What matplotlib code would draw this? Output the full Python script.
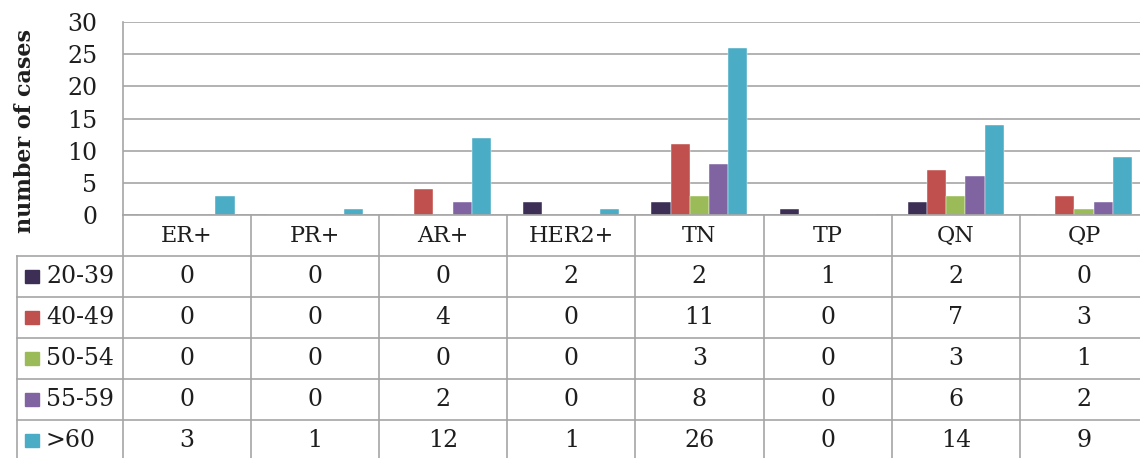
import matplotlib
matplotlib.use('Agg')
import matplotlib.pyplot as plt
import numpy as np

# data
categories = ['ER+', 'PR+', 'AR+', 'HER2+', 'TN', 'TP', 'QN', 'QP']
age_groups = ['20-39', '40-49', '50-54', '55-59', '>60']
age_20_39 = [0, 0, 0, 2, 2, 1, 2, 0]
age_40_49 = [0, 0, 4, 0, 11, 0, 7, 3]
age_50_54 = [0, 0, 0, 0, 3, 0, 3, 1]
age_55_59 = [0, 0, 2, 0, 8, 0, 6, 2]
age_60_up = [3, 1, 12, 1, 26, 0, 14, 9]
series = [age_20_39, age_40_49, age_50_54, age_55_59, age_60_up]
colors = ['#3D2E55', '#C0504D', '#9BBB59', '#8064A2', '#4BACC6']
yticks = [0, 5, 10, 15, 20, 25, 30]

W, H = 1140, 458
plt.rcParams['font.family'] = 'DejaVu Serif'
fig = plt.figure(figsize=(W / 100, H / 100), dpi=100)

grid_c = '#A5A5A5'
txt_c = '#1E1E1E'
x_left = 122.5   # px, left of plot area
col_w = 128.2    # px per category
y_zero = 215     # px from top
y_top = 22
row_h = 41

# bar chart axes
ax = fig.add_axes([x_left / W, (H - y_zero) / H, 8 * col_w / W, (y_zero - y_top) / H])
ax.set_xlim(0, 8)
ax.set_ylim(0, 30)
bw = 0.15
x = np.arange(len(categories))
for i, (vals, c) in enumerate(zip(series, colors)):
    ax.bar(x + 0.125 + bw * (i + 0.5), vals, width=bw, color=c, align='center',
           edgecolor='white', linewidth=0.3, zorder=3)
ax.set_yticks(yticks)
ax.set_yticklabels([str(t) for t in yticks], fontsize=17, color=txt_c)
ax.tick_params(axis='y', length=0, pad=18)
ax.set_xticks([])
ax.yaxis.grid(True, color=grid_c, linewidth=1.2)
ax.set_axisbelow(True)
for s in ['top', 'right', 'bottom']:
    ax.spines[s].set_visible(False)
ax.spines['left'].set_color(grid_c)
ax.spines['left'].set_linewidth(1.2)

fig.text(25 / W, 1 - 131 / H, 'number of cases', rotation=90, ha='center',
         va='center', fontsize=16, fontweight='bold', color=txt_c)

# data table below the chart
tab = fig.add_axes([x_left / W, 0, 8 * col_w / W, (H - y_zero) / H])
tab.set_xlim(0, 8)
tab.set_ylim((H - y_zero) / row_h, 0)
tab.axis('off')
left_edge = -(x_left - 17) / col_w
lk = dict(color=grid_c, linewidth=1.2, clip_on=False)
n_rows = len(age_groups)
# horizontal lines
tab.plot([0, 8], [0, 0], **lk)
for r in range(1, n_rows + 2):
    tab.plot([left_edge, 8], [r, r], **lk)
# vertical lines
for c in range(len(categories) + 1):
    tab.plot([c, c], [0, n_rows + 1], **lk)
tab.plot([left_edge, left_edge], [1, n_rows + 1], **lk)

for j, cat in enumerate(categories):
    tab.text(j + 0.5, 0.52, cat, ha='center', va='center', fontsize=16, color=txt_c)
sq_x = -(x_left - 25) / col_w
sq_w = 14 / col_w
lab_x = -(x_left - 46) / col_w
for r, (name, vals, c) in enumerate(zip(age_groups, series, colors)):
    yc = r + 1.5
    tab.add_patch(plt.Rectangle((sq_x, yc - 0.17), sq_w, 0.34, color=c, clip_on=False))
    tab.text(lab_x, yc, name, ha='left', va='center', fontsize=17, color=txt_c, clip_on=False)
    for j, v in enumerate(vals):
        tab.text(j + 0.5, yc, str(v), ha='center', va='center', fontsize=17, color=txt_c)

fig.savefig('out.png', dpi=100)
